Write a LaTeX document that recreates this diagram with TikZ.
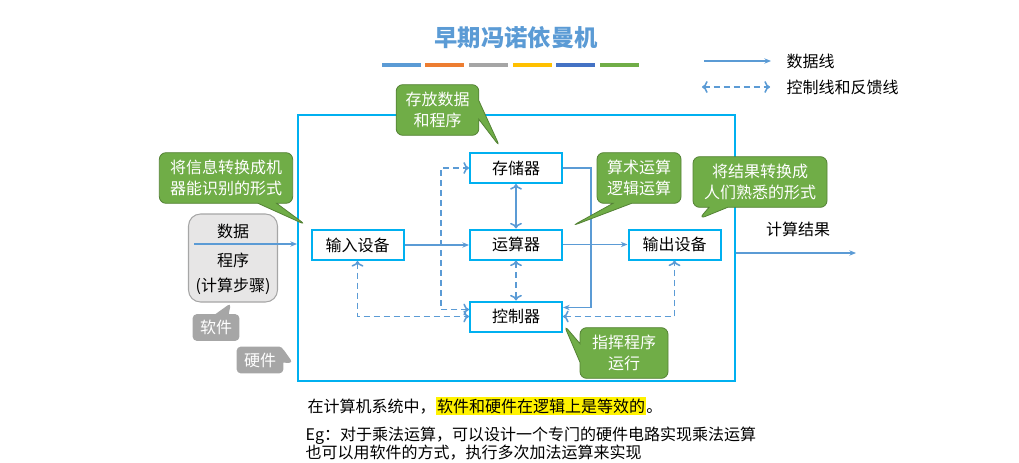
\documentclass[tikz,border=0pt]{standalone}
\usepackage{fontspec}
\setmainfont{Noto Sans CJK SC}
\usetikzlibrary{arrows.meta,shapes.callouts,calc}
\definecolor{hwblue}{HTML}{00B0F0}
\definecolor{lineblue}{HTML}{5B9BD5}
\definecolor{tipgreen}{HTML}{70AD47}
\definecolor{tipedge}{HTML}{548235}
\definecolor{softfill}{HTML}{E7E6E6}
\definecolor{softedge}{HTML}{A6A6A6}
\definecolor{tipgray}{HTML}{A6A6A6}
\definecolor{barblue}{HTML}{5B9BD5}
\definecolor{barorange}{HTML}{ED7D31}
\definecolor{bargray}{HTML}{A5A5A5}
\definecolor{bargold}{HTML}{FFC000}
\definecolor{bardark}{HTML}{4472C4}
\definecolor{bargreen}{HTML}{70AD47}
\setlength{\fboxsep}{1pt}
\begin{document}
\begin{tikzpicture}[x=0.75pt,y=-0.75pt,
		unit/.style={draw=hwblue,line width=1.5pt,fill=white,minimum width=69pt,minimum height=22.5pt,inner sep=0pt,font=\fontsize{12}{14}\selectfont},
		data/.style={draw=lineblue,line width=1.2pt,-{Stealth[length=5pt,width=4pt]}},
		ctrl/.style={data,dash pattern=on 4.5pt off 3pt},
		tip/.style={rectangle callout,rounded corners=5pt,fill=tipgreen,draw=tipedge,line width=0.6pt,text=white,align=center,inner sep=0pt,callout pointer width=14pt,minimum height=38pt,font=\fontsize{12}{15.5}\selectfont},
		graytip/.style={rectangle callout,rounded corners=3pt,fill=tipgray,text=white,inner sep=0pt,callout pointer width=10pt,minimum width=35pt,minimum height=20pt,font=\fontsize{12}{14}\selectfont},
		txt/.style={font=\fontsize{12}{14}\selectfont}]
		\useasboundingbox (0,0) rectangle (1019,463);
		% title and colour bars
		\node[font=\fontsize{17.5}{20}\selectfont\bfseries,text=lineblue] (title) at (516,38) {早期冯诺依曼机};
		\foreach \x/\c in {382/barblue, 425/barorange, 469/bargray, 513/bargold, 556/bardark, 600/bargreen}
			\fill[\c] (\x,63) rectangle (\x+39,67);
		% legend
		\coordinate (lda) at (704,61);
		\coordinate (ldb) at (771,61);
		\coordinate (lca) at (702,87);
		\coordinate (lcb) at (770,87);
		\draw[data] (lda) -- (ldb);
		\draw[ctrl,<->] (lca) -- (lcb);
		\node[txt,anchor=west] (ldtext) at (782,61) {数据线};
		\node[txt,anchor=west] (lctext) at (782,87) {控制线和反馈线};
		% hardware frame
		\node[draw=hwblue,line width=1.5pt,minimum width=327.75pt,minimum height=199.5pt] (hw) at (516.5,248) {};
		% software
		\node[draw=softedge,fill=softfill,rounded corners=9pt,line width=0.8pt,minimum width=66.75pt,minimum height=66pt] (soft) at (233,258) {};
		\node[txt] (sdata) at (233,231) {数据};
		\node[txt] (sprog) at (233,260) {程序};
		\node[txt] (ssteps) at (233,286) {(计算步骤)};
		% units
		\node[unit] (in) at (357.5,245) {输入设备};
		\node[unit] (mem) at (516,168) {存储器};
		\node[unit] (alu) at (516,244.5) {运算器};
		\node[unit] (ctl) at (516,316.5) {控制器};
		\node[unit] (out) at (674.5,244.5) {输出设备};
		% data lines
		\coordinate (datain) at (194,244);
		\coordinate (resout) at (856,253);
		\draw[data] (datain) -- (datain -| hw.west);
		\draw[data] (hw.east |- resout) -- (resout);
		\node[txt] (result) at (798,229) {计算结果};
		\draw[data] (in.east) -- (in.east -| alu.west);
		\draw[data] (alu.east) -- (out.west);
		\draw[data,<->] (mem.south) -- (alu.north);
		\draw[data] (mem.east) -- ++(28,0) |- ($(ctl.east)+(0,-9)$);
		% control and feedback lines
		\draw[ctrl,<->] (alu.south) -- (ctl.north);
		\draw[ctrl,<->] (ctl.east) -| (out.south);
		\draw[ctrl,<->] (in.south) |- (ctl.west);
		\draw[ctrl,<->] ($(ctl.west)+(0,-7)$) -- ++(-28,0) |- (mem.west);
		% notes
		\node[tip,minimum width=62pt,callout absolute pointer={(500,147)}] (tstore) at (437.5,110) {存放数据\\和程序};
		\node[tip,minimum width=100pt,callout absolute pointer={(306,225)}] (tinput) at (226,178) {将信息转换成机\\器能识别的形式};
		\node[tip,minimum width=63pt,callout absolute pointer={(572,226)}] (talu) at (639,178) {算术运算\\逻辑运算};
		\node[tip,minimum width=100.5pt,callout absolute pointer={(699,219)}] (toutput) at (760,182) {将结果转换成\\人们熟悉的形式};
		\node[tip,minimum width=66pt,callout absolute pointer={(564,325)}] (tctl) at (624,353) {指挥程序\\运行};
		\node[graytip,callout absolute pointer={(231,303)}] (tsoft) at (216,327.5) {软件};
		\node[graytip,callout absolute pointer={(293,363)}] (thard) at (260,360) {硬件};
		% text below
		\node[txt,anchor=west] (equiv) at (303,406) {在计算机系统中，\colorbox{yellow}{软件和硬件在逻辑上是等效的}。};
		\node[anchor=north west,align=left,font=\fontsize{12}{13.5}\selectfont] (eg) at (301,422) {Eg：对于乘法运算，可以设计一个专门的硬件电路实现乘法运算\\也可以用软件的方式，执行多次加法运算来实现};
	\end{tikzpicture}
\end{document}
